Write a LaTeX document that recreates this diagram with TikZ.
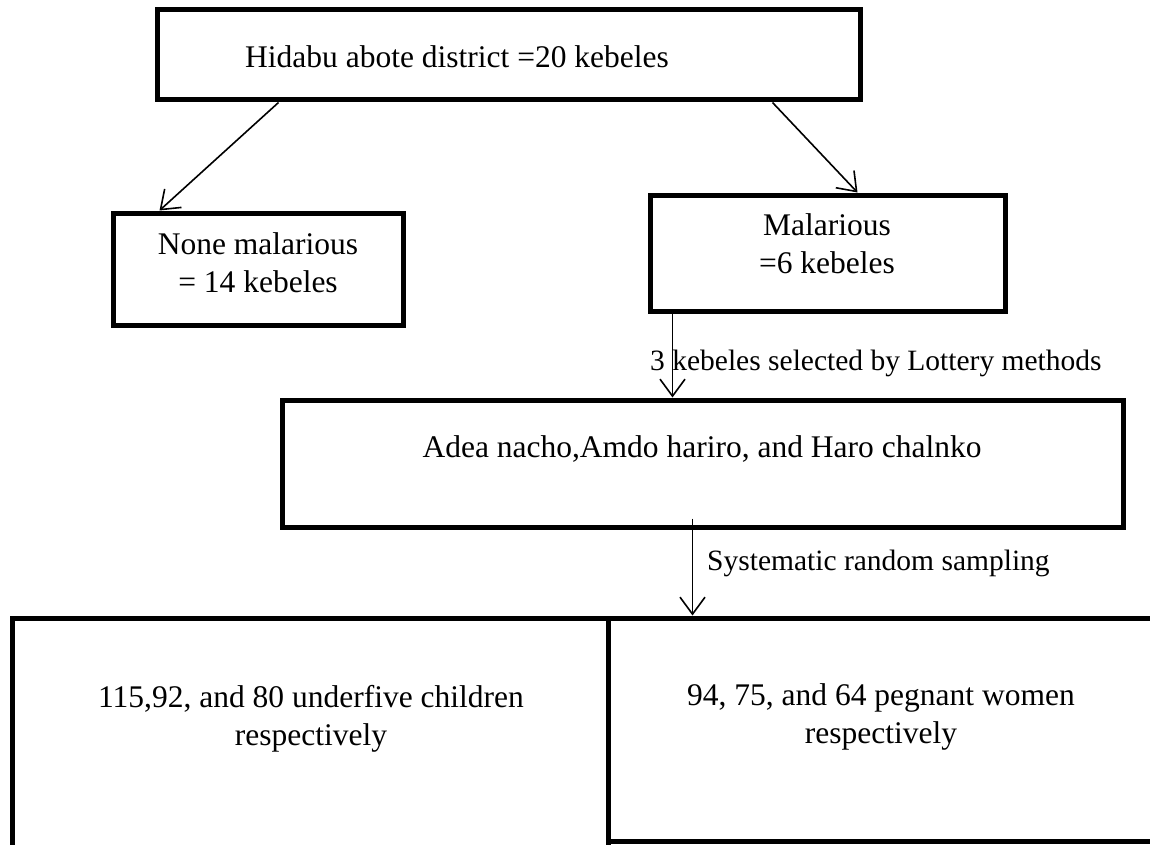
\documentclass[tikz,border=0pt]{standalone}
\usepackage{fontspec}
\setmainfont{Liberation Serif}
\usetikzlibrary{arrows.meta}
\tikzset{
  box/.style={draw=black, line width=5pt, rectangle, fill=none, inner sep=0pt, line join=miter},
  txt/.style={font=\fontsize{31.5}{37.5}\selectfont, align=center, inner sep=0pt, text=black},
  lbl/.style={font=\fontsize{29.5}{34}\selectfont, inner sep=0pt, text=black, anchor=base west},
  arr/.style={draw=black, line width=1.6pt, -{Straight Barb[length=17pt,width=25pt,line width=1.6pt]}}
}
\begin{document}
\begin{tikzpicture}[x=1pt,y=-1pt]
\fill[white] (0,0) rectangle (1150,845);
\clip (0,0) rectangle (1150,845);
% boxes
\node[box, minimum width=703pt, minimum height=90pt] (top) at (508.5,55) {};
\node[box, minimum width=290pt, minimum height=112pt] (left) at (258,269) {};
\node[box, minimum width=355pt, minimum height=116pt] (mal) at (827.5,253) {};
\node[box, minimum width=841pt, minimum height=127pt] (mid) at (702.5,463.5) {};
\node[box, minimum width=596pt, minimum height=252pt] (bl) at (310,744) {};
\node[box, minimum width=572pt, minimum height=223pt] (br) at (894,729.5) {};
% texts
\node[txt, anchor=base west] (toptxt) at (245,68) {Hidabu abote district =20 kebeles};
\node[txt, anchor=base] (lefttxt) at (258,292) {None malarious\\= 14 kebeles};
\node[txt, anchor=base] (maltxt) at (827,273) {Malarious\\=6 kebeles};
\node[txt, anchor=base] (midtxt) at (702,457) {Adea nacho,Amdo hariro, and Haro chalnko};
\node[txt, anchor=base] (bltxt) at (311,745) {115,92, and 80 underfive children\\respectively};
\node[txt, anchor=base] (brtxt) at (881,743) {94, 75, and 64 pegnant women\\respectively};
% connectors
\draw[arr] ([xshift=124pt]top.south west) -- ([xshift=49pt]left.north west);
\draw[arr] ([xshift=618pt]top.south west) -- ([xshift=210pt]mal.north west);
\draw[arr] ([xshift=25pt]mal.south west) -- ([xshift=393pt]mid.north west);
\draw[arr] ([xshift=413pt,yshift=11pt]mid.south west) -- ([xshift=87pt]br.north west);
% labels
\node[lbl] (lab1) at (650,370) {3 kebeles selected by Lottery methods};
\node[lbl] (lab2) at (707,570) {Systematic random sampling};
\end{tikzpicture}
\end{document}
